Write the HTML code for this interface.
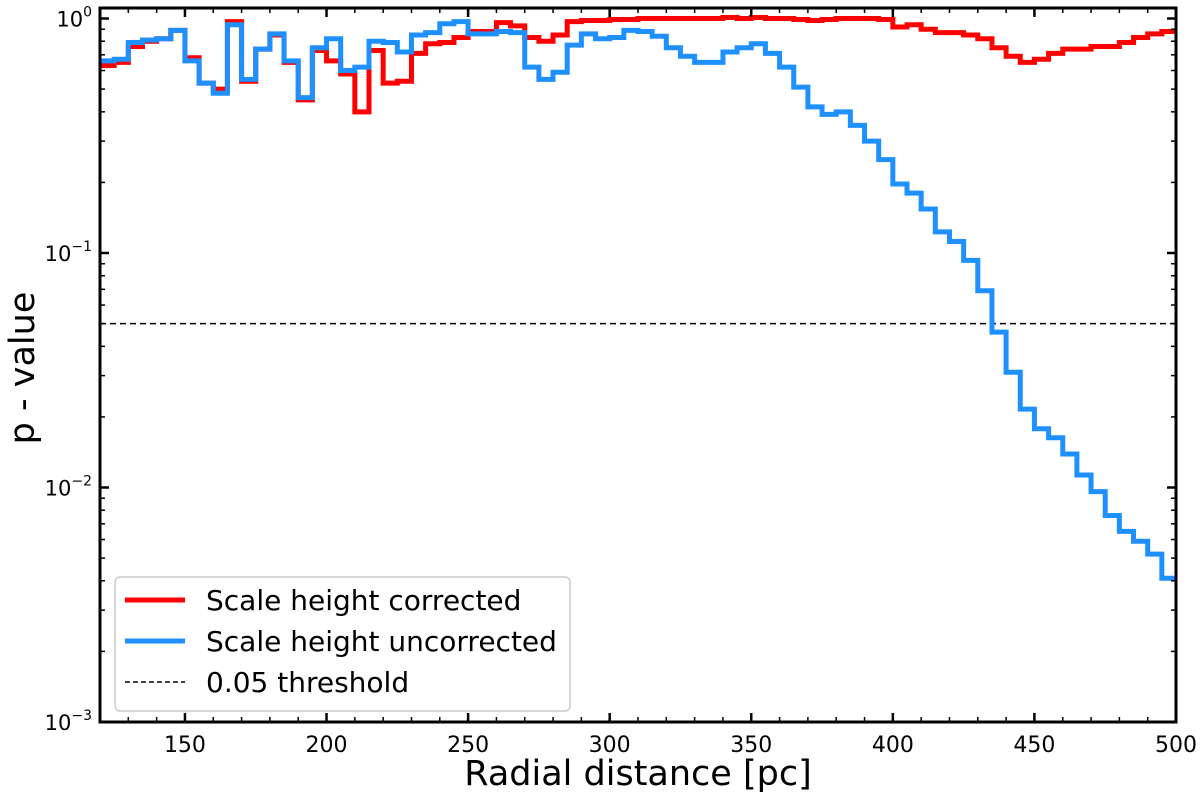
<!DOCTYPE html>
<html><head><meta charset="utf-8"><style>
body{margin:0;background:#fff;}
svg text{font-family:"DejaVu Sans","Liberation Sans",sans-serif;fill:#000;}
</style></head><body>
<svg id="chart" width="1200" height="794" viewBox="0 0 1200 794" xmlns="http://www.w3.org/2000/svg">
<g id="marks"></g>
<g id="axes"></g>
</svg>
<script>
const binStart = 120;
const binWidth = 5;
const corrected = [0.63,0.65,0.76,0.80,0.82,0.89,0.68,0.53,0.50,0.97,0.54,0.74,0.85,0.65,0.45,0.73,0.66,0.58,0.40,0.73,0.53,0.54,0.71,0.78,0.79,0.83,0.88,0.88,0.96,0.93,0.83,0.80,0.85,0.97,0.98,0.98,0.99,0.99,1.0,1.0,1.0,1.0,1.0,1.0,1.01,1.0,1.01,1.0,1.0,0.99,0.98,0.99,1.0,1.0,1.0,0.99,0.92,0.94,0.90,0.87,0.87,0.85,0.82,0.75,0.69,0.65,0.67,0.71,0.74,0.74,0.76,0.76,0.79,0.83,0.86,0.88];
const uncorrected = [0.66,0.67,0.79,0.81,0.82,0.89,0.66,0.53,0.48,0.94,0.55,0.74,0.86,0.66,0.46,0.75,0.82,0.60,0.62,0.80,0.79,0.72,0.85,0.87,0.95,0.97,0.86,0.86,0.88,0.87,0.62,0.55,0.59,0.77,0.86,0.82,0.83,0.89,0.88,0.84,0.75,0.69,0.65,0.65,0.72,0.75,0.78,0.71,0.62,0.51,0.42,0.39,0.40,0.35,0.30,0.25,0.197,0.18,0.154,0.123,0.112,0.093,0.069,0.046,0.031,0.0216,0.0178,0.0163,0.0139,0.0113,0.0096,0.0076,0.0065,0.0059,0.0052,0.0041];
const threshold = 0.05;
const xTicks = [150,200,250,300,350,400,450,500];
const yDecades = [0,-1,-2,-3];

const L=100,R=1176,T=8,B=722,XMIN=120,XMAX=500;
const YTOP=722-3*234.5;
function xs(v){return L+(v-XMIN)*(R-L)/(XMAX-XMIN);}
function ys(v){return YTOP-Math.log10(v)*234.5;}
const NS="http://www.w3.org/2000/svg";
const marks=document.getElementById('marks'), axes=document.getElementById('axes');
function mk(tag,attrs,parent){const e=document.createElementNS(NS,tag);for(const k in attrs)e.setAttribute(k,attrs[k]);parent.appendChild(e);return e;}

function stepPath(vals){
  let d='M'+xs(binStart)+' '+ys(vals[0]);
  vals.forEach((v,i)=>{
    if(i>0)d+=' V'+ys(v);
    d+=' H'+xs(binStart+(i+1)*binWidth);
  });
  return d;
}
const clip=mk('clipPath',{id:'pc'},marks);mk('rect',{x:L,y:T,width:R-L,height:B-T},clip);
const thr=mk('line',{x1:L,x2:R,y1:ys(threshold),y2:ys(threshold),stroke:'#000','stroke-width':1.5,'stroke-dasharray':'6,4'},marks);


const pr=mk('path',{d:stepPath(corrected),fill:'none',stroke:'#ff0000','stroke-width':5,'clip-path':'url(#pc)'},marks);


const pb=mk('path',{d:stepPath(uncorrected),fill:'none',stroke:'#1e90ff','stroke-width':5,'clip-path':'url(#pc)'},marks);



const fr=mk('rect',{x:L,y:T,width:R-L,height:B-T,fill:'none',stroke:'#000','stroke-width':3},axes);


for(let v=130;v<=500;v+=10){
  const maj=v%50===0, len=maj?9:5, x=xs(v);
  mk('line',{x1:x,x2:x,y1:B,y2:B-len,stroke:'#000','stroke-width':maj?2.5:1.5},axes);
  mk('line',{x1:x,x2:x,y1:T,y2:T+len,stroke:'#000','stroke-width':maj?2.5:1.5},axes);
}
xTicks.forEach(v=>{
  const t=mk('text',{x:xs(v),y:B+30,'font-size':22,'text-anchor':'middle'},axes);t.textContent=v;
  
  
});
yDecades.forEach(p=>{
  const y=ys(Math.pow(10,p));
  mk('line',{x1:L,x2:L+9,y1:y,y2:y,stroke:'#000','stroke-width':2.5},axes);
  mk('line',{x1:R,x2:R-9,y1:y,y2:y,stroke:'#000','stroke-width':2.5},axes);
  const t=mk('text',{x:L-8,y:y+8,'font-size':21,'text-anchor':'end'},axes);
  t.innerHTML='10<tspan dy="-10" font-size="14">'+(p===0?'0':'\u2212'+(-p))+'</tspan>';
  
  
  if(p>-3)for(let m=2;m<=9;m++){
    const yy=ys(m*Math.pow(10,p-1));
    mk('line',{x1:L,x2:L+5,y1:yy,y2:yy,stroke:'#000','stroke-width':1.5},axes);
    mk('line',{x1:R,x2:R-5,y1:yy,y2:yy,stroke:'#000','stroke-width':1.5},axes);
  }
});
const xt=mk('text',{x:(L+R)/2,y:785,'font-size':35,'text-anchor':'middle'},axes);xt.textContent='Radial distance [pc]';


const yt=mk('text',{x:0,y:0,'font-size':35,'text-anchor':'middle',transform:'translate(34,368) rotate(-90)'},axes);yt.textContent='p - value';



const lg=mk('g',{},axes);


mk('rect',{x:115,y:577,width:455,height:134,rx:5,fill:'#fff','fill-opacity':0.85,stroke:'#ccc','stroke-width':1.5},lg);
const entries=[['Scale height corrected','#ff0000',0],['Scale height uncorrected','#1e90ff',0],['0.05 threshold','#000',1]];
entries.forEach((e,i)=>{
  const y=600+i*41;
  const ent=mk('g',{},lg);
  
  
  mk('line',{x1:125,x2:185,y1:y,y2:y,stroke:e[1],'stroke-width':e[2]?1.5:5,'stroke-dasharray':e[2]?'5,3':'none'},ent);
  const t=mk('text',{x:206,y:y+10,'font-size':28},ent);t.textContent=e[0];
});
</script>
</body></html>
